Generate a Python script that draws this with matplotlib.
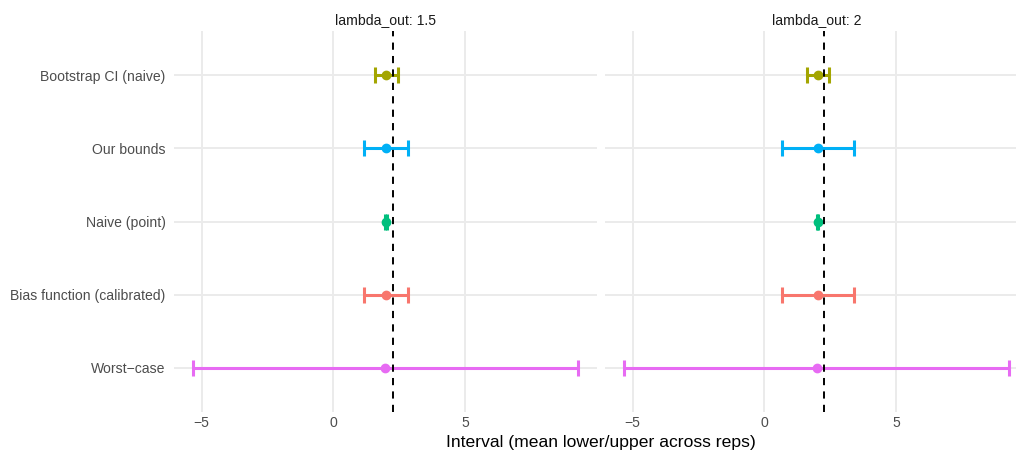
import matplotlib.pyplot as plt
import numpy as np

plt.rcParams['font.family'] = ['Liberation Sans', 'DejaVu Sans']

# categories, top to bottom
methods = ["Bootstrap CI (naive)", "Our bounds", "Naive (point)",
           "Bias function (calibrated)", "Worst\u2212case"]
colors = ["#A3A500", "#00B0F6", "#00BF7D", "#F8766D", "#E76BF3"]

facets = ["lambda_out: 1.5", "lambda_out: 2"]
truth = [2.25, 2.27]

# mean lower / estimate / upper for each facet, same order as methods
lower_15 = [1.60, 1.18, 1.97, 1.18, -5.32]
est_15 = [2.01, 2.00, 2.00, 2.00, 1.96]
upper_15 = [2.44, 2.84, 2.03, 2.83, 9.27]

lower_2 = [1.61, 0.66, 1.99, 0.66, -5.32]
est_2 = [2.03, 2.02, 2.02, 2.02, 2.01]
upper_2 = [2.47, 3.41, 2.05, 3.40, 9.28]

lowers = [lower_15, lower_2]
ests = [est_15, est_2]
uppers = [upper_15, upper_2]

W, H = 1016, 455
fig = plt.figure(figsize=(W / 100, H / 100), dpi=100)

panel_top, panel_bot = 31.4, 411.6
panels_x = [(174, 597), (605, 1028)]  # right panel is cut off at the figure edge

y = np.arange(len(methods))[::-1]
xlim = (-6.05, 10.01)

axes = []
for k, (x0, x1) in enumerate(panels_x):
    ax = fig.add_axes([x0 / W, 1 - panel_bot / H, (x1 - x0) / W, (panel_bot - panel_top) / H])
    axes.append(ax)
    ax.set_xlim(*xlim)
    ax.set_ylim(-0.6, len(methods) - 1 + 0.6)
    for s in ax.spines.values():
        s.set_visible(False)
    ax.set_xticks([-5, 0, 5])
    ax.set_xticklabels(["\u22125", "0", "5"])
    ax.set_yticks(y)
    ax.grid(True, color="#EBEBEB", linewidth=1.42, zorder=0)
    ax.set_axisbelow(True)
    ax.tick_params(length=0, labelsize=10.1, labelcolor="#4D4D4D", pad=3)
    ax.tick_params(axis="y", pad=6)
    if k == 0:
        ax.set_yticklabels(methods)
    else:
        ax.set_yticklabels([])
    ax.set_title(facets[k], fontsize=10.1, color="#1A1A1A", pad=5)

    for i, m in enumerate(methods):
        lo, e, hi = lowers[k][i], ests[k][i], uppers[k][i]
        ax.errorbar(e, y[i], xerr=[[e - lo], [hi - e]], fmt="o", color=colors[i],
                    markersize=6, elinewidth=2.2, capsize=5.5, capthick=2.2, zorder=3)
    ax.axvline(truth[k], color="black", linewidth=1.4, linestyle=(0, (3.7, 3.2)), zorder=4)

fig.text(601 / W, 1 - 442 / H, "Interval (mean lower/upper across reps)",
         ha="center", va="center", fontsize=12.6, color="black")

fig.savefig("out.png", dpi=100)
